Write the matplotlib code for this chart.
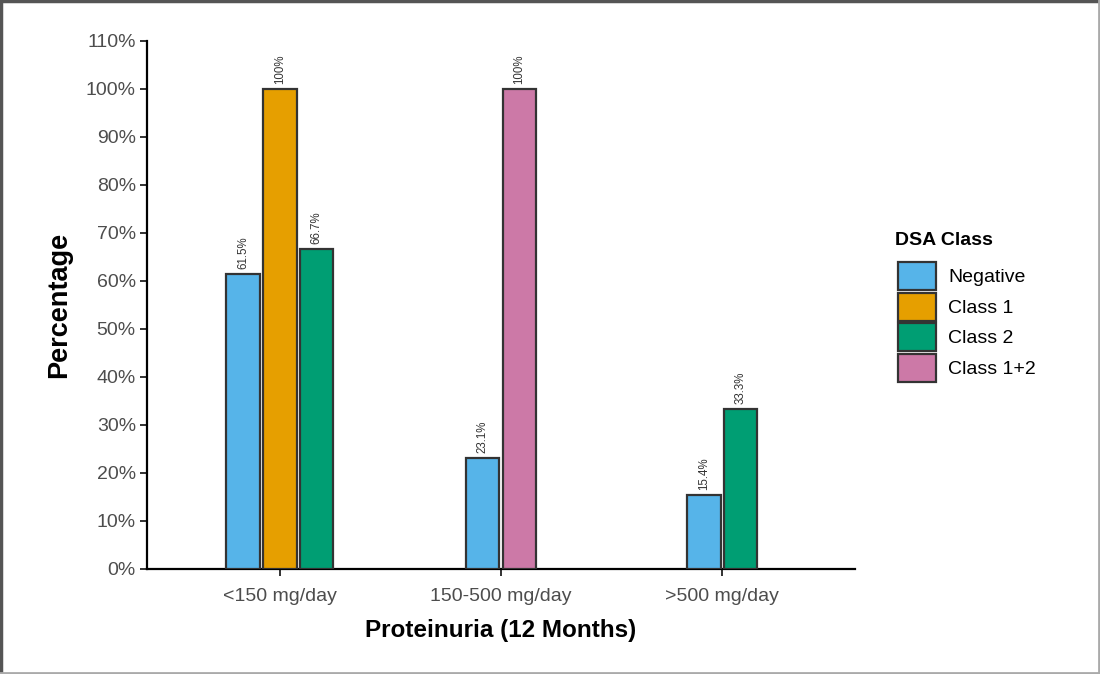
import numpy as np
import matplotlib
matplotlib.use("Agg")
import matplotlib.pyplot as plt
from matplotlib.patches import Patch
from matplotlib.lines import Line2D

plt.rcParams['font.family'] = ['Liberation Sans', 'DejaVu Sans']

groups = ['<150 mg/day', '150-500 mg/day', '>500 mg/day']
classes = ['Negative', 'Class 1', 'Class 2', 'Class 1+2']
colors = ['#56B4E9', '#E69F00', '#009E73', '#CC79A7']
# percentage per group for each class present (None = absent)
values = {
    'Negative':  [61.5, 23.1, 15.4],
    'Class 1':   [100.0, None, None],
    'Class 2':   [66.7, None, 33.3],
    'Class 1+2': [None, 100.0, None],
}
labels = {
    'Negative':  ['61.5%', '23.1%', '15.4%'],
    'Class 1':   ['100%', None, None],
    'Class 2':   ['66.7%', None, '33.3%'],
    'Class 1+2': [None, '100%', None],
}

fig = plt.figure(figsize=(11, 6.74), dpi=100)
ax = fig.add_axes([0.1336, 0.1558, 0.6437, 0.7834])

step = 0.166
width = 0.152
for gi, g in enumerate(groups):
    present = [c for c in classes if values[c][gi] is not None]
    n = len(present)
    for k, c in enumerate(present):
        x = gi + 1 + (k - (n - 1) / 2) * step
        v = values[c][gi]
        ax.bar(x, v, width=width, color=colors[classes.index(c)],
               edgecolor='#333333', linewidth=1.6, zorder=3)
        ax.text(x, v + 1.1, labels[c][gi], rotation=90, ha='center',
                va='bottom', fontsize=8.3, color='#333333')

ax.set_xlim(0.4, 3.6)
ax.set_ylim(0, 110)
ax.set_xticks([1, 2, 3])
ax.set_xticklabels(groups)
ax.set_yticks(np.arange(0, 111, 10))
ax.set_yticklabels([f'{t}%' for t in range(0, 111, 10)])
ax.tick_params(axis='both', labelsize=14, labelcolor='#4D4D4D',
               length=5, width=1.3, color='#222222', pad=3)
ax.tick_params(axis='x', pad=8.5)
for s in ['top', 'right']:
    ax.spines[s].set_visible(False)
for s in ['left', 'bottom']:
    ax.spines[s].set_linewidth(1.6)
    ax.spines[s].set_color('black')

ax.set_xlabel('Proteinuria (12 Months)', fontsize=17.5, fontweight='bold',
              labelpad=10)
ax.set_ylabel('Percentage', fontsize=19.5, fontweight='bold', labelpad=10)

# legend
fig.text(0.8136, 1 - 240 / 674, 'DSA Class', fontsize=14, fontweight='bold',
         ha='left', va='center')
handles = [Patch(facecolor=colors[i], edgecolor='#333333', linewidth=1.6)
           for i in range(len(classes))]
leg = fig.legend(handles, classes, loc='upper left',
                 bbox_to_anchor=(0.8163, 1 - 262 / 674), frameon=False,
                 fontsize=14, handlelength=1.95, handleheight=1.84,
                 labelspacing=0.13, handletextpad=0.62, borderaxespad=0,
                 borderpad=0)

# figure border
fig.add_artist(Line2D([0, 1], [0.998, 0.998], color='#555555', lw=2.5,
                      transform=fig.transFigure))
fig.add_artist(Line2D([0.001, 0.001], [0, 1], color='#555555', lw=2.5,
                      transform=fig.transFigure))
fig.add_artist(Line2D([0, 1], [0.002, 0.002], color='#AAAAAA', lw=2,
                      transform=fig.transFigure))
fig.add_artist(Line2D([0.999, 0.999], [0, 1], color='#AAAAAA', lw=2,
                      transform=fig.transFigure))

fig.savefig('out.png', dpi=100)
